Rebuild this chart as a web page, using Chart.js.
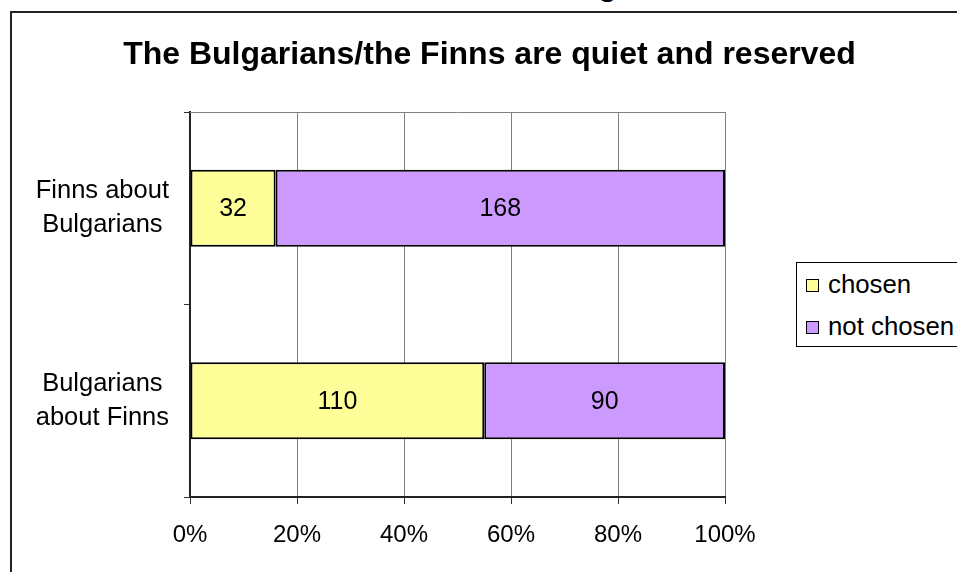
<!DOCTYPE html>
<html>
<head>
<meta charset="utf-8">
<script src="https://cdn.jsdelivr.net/npm/chart.js@4.4.0/dist/chart.umd.min.js"></script>
<style>
  html, body { margin: 0; padding: 0; background: #fff; overflow: hidden; }
  body { width: 957px; height: 572px; position: relative; font-family: "Liberation Sans", Arial, sans-serif; }
  #frame { position: absolute; left: 10px; top: 11px; width: 1000px; height: 600px; border: 2px solid #222; }
  #wrap { position: absolute; left: 0; top: 0; width: 957px; height: 572px; }
  #title { position: absolute; left: 0; width: 979px; top: 35px; text-align: center; font-weight: bold; font-size: 32px; color: #000; }
  #cut { position: absolute; left: 598px; top: -33px; font-weight: bold; font-size: 31px; }
  #legend { position: absolute; left: 796px; top: 262px; width: 220px; height: 83px; border: 1px solid #000; background: #fff; }
  .row { position: absolute; left: 9px; height: 30px; font-size: 25.8px; line-height: 30px; white-space: nowrap; }
  .sw { display: inline-block; width: 11px; height: 11px; border: 1.5px solid #000; margin-right: 9px; vertical-align: middle; position: relative; top: -1px; }
</style>
</head>
<body>
<div id="cut">g</div>
<div id="frame"></div>
<div id="wrap"><canvas id="chart"></canvas></div>
<div id="title">The Bulgarians/the Finns are quiet and reserved</div>
<div id="legend"></div>
<script>
const categories = [['Finns about', 'Bulgarians'], ['Bulgarians', 'about Finns']];
const chosen = [32, 110];
const notChosen = [168, 90];
const xTicks = [0, 20, 40, 60, 80, 100];

const totals = chosen.map((v, i) => v + notChosen[i]);
const pct = arr => arr.map((v, i) => v / totals[i] * 100);

Chart.defaults.font.family = '"Liberation Sans", Arial, sans-serif';
Chart.defaults.font.size = 24;
Chart.defaults.color = '#000';

// value labels in the middle of every segment
const segmentLabels = {
  id: 'segmentLabels',
  afterDatasetsDraw(chart) {
    const ctx = chart.ctx;
    ctx.save();
    ctx.font = '25px "Liberation Sans", Arial, sans-serif';
    ctx.fillStyle = '#000';
    ctx.textAlign = 'center';
    ctx.textBaseline = 'middle';
    chart.data.datasets.forEach((ds, di) => {
      chart.getDatasetMeta(di).data.forEach((bar, i) => {
        const p = bar.getCenterPoint();
        ctx.fillText(String(ds.counts[i]), p.x, p.y + 1);
      });
    });
    ctx.restore();
  }
};

// gray top edge of the plot area
const plotTop = {
  id: 'plotTop',
  beforeDatasetsDraw(chart) {
    const a = chart.chartArea, ctx = chart.ctx;
    ctx.save();
    ctx.strokeStyle = '#808080';
    ctx.lineWidth = 1;
    ctx.beginPath();
    ctx.moveTo(a.left, a.top + 0.5);
    ctx.lineTo(a.right, a.top + 0.5);
    ctx.stroke();
    ctx.restore();
  }
};

const chart = new Chart(document.getElementById('chart'), {
  type: 'bar',
  data: {
    labels: categories,
    datasets: [
      {
        label: 'chosen',
        data: pct(chosen),
        counts: chosen,
        backgroundColor: '#FFFF99',
        borderColor: '#000',
        borderWidth: 2,
        borderSkipped: false,
        barPercentage: 0.4,
        categoryPercentage: 1
      },
      {
        label: 'not chosen',
        data: pct(notChosen),
        counts: notChosen,
        backgroundColor: '#CC99FF',
        borderColor: '#000',
        borderWidth: 2,
        borderSkipped: false,
        barPercentage: 0.4,
        categoryPercentage: 1
      }
    ]
  },
  options: {
    indexAxis: 'y',
    responsive: true,
    maintainAspectRatio: false,
    animation: false,
    layout: { padding: { top: 112, right: 232, left: 0, bottom: 0 } },
    plugins: {
      legend: { display: false },
      tooltip: { enabled: false }
    },
    scales: {
      x: {
        stacked: true,
        min: 0,
        max: 100,
        afterFit(scale) { scale.height = 75; },
        afterBuildTicks(scale) { scale.ticks = xTicks.map(v => ({ value: v })); },
        ticks: { callback: v => v + '%', padding: 17, maxRotation: 0 },
        grid: { color: '#808080', tickColor: '#333', tickLength: 7, lineWidth: 1 },
        border: { color: '#222', width: 2 }
      },
      y: {
        stacked: true,
        offset: true,
        afterFit(scale) { scale.width = 190; },
        ticks: { crossAlign: 'center', padding: 15, font: { size: 25.5, lineHeight: 1.32 } },
        grid: { offset: true, drawOnChartArea: false, tickColor: '#333', tickLength: 6 },
        border: { color: '#222', width: 2 }
      }
    }
  },
  plugins: [segmentLabels, plotTop]
});

// legend built from the datasets
const legend = document.getElementById('legend');
chart.data.datasets.forEach((ds, i) => {
  const row = document.createElement('div');
  row.className = 'row';
  row.style.top = (6 + i * 42) + 'px';
  const sw = document.createElement('span');
  sw.className = 'sw';
  sw.style.background = ds.backgroundColor;
  row.appendChild(sw);
  row.appendChild(document.createTextNode(ds.label));
  legend.appendChild(row);
});
</script>
</body>
</html>
